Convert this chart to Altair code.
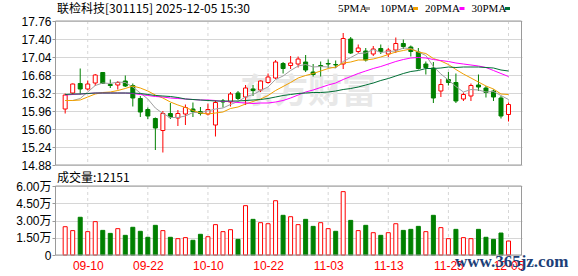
import json
import numpy as np
import pandas as pd
import altair as alt

# ---------------- data ----------------
dates = ["09-05", "09-08", "09-09", "09-10", "09-11", "09-12", "09-15", "09-16", "09-17", "09-18",
         "09-19", "09-22", "09-23", "09-24", "09-25", "09-26", "09-29", "09-30", "10-09", "10-10",
         "10-13", "10-14", "10-15", "10-16", "10-17", "10-20", "10-21", "10-22", "10-23", "10-24",
         "10-27", "10-28", "10-29", "10-30", "10-31", "11-03", "11-04", "11-05", "11-06", "11-07",
         "11-10", "11-11", "11-12", "11-13", "11-14", "11-17", "11-18", "11-19", "11-20", "11-21",
         "11-24", "11-25", "11-26", "11-27", "11-28", "12-01", "12-02", "12-03", "12-04", "12-05"]

open_ = [16.00, 16.32, 16.51, 16.40, 16.52, 16.73, 16.49, 16.48, 16.56, 16.47,
         16.21, 15.99, 15.81, 15.57, 15.91, 15.82, 15.90, 16.00, 15.95, 15.90,
         15.68, 16.16, 16.14, 16.32, 16.24, 16.40, 16.38, 16.53, 16.62, 16.91,
         16.87, 16.90, 16.94, 16.74, 16.87, 16.91, 16.89, 16.90, 17.40, 17.15,
         17.16, 17.10, 17.21, 17.10, 17.18, 17.31, 17.24, 17.14, 16.90, 16.82,
         16.36, 16.59, 16.53, 16.20, 16.26, 16.48, 16.42, 16.36, 16.22, 15.89]
high = [16.31, 16.51, 16.81, 16.57, 16.70, 16.74, 16.59, 16.56, 16.67, 16.51,
        16.26, 16.03, 15.83, 15.96, 16.12, 15.98, 16.09, 16.13, 16.04, 16.11,
        16.18, 16.20, 16.34, 16.36, 16.48, 16.48, 16.57, 16.71, 16.98, 16.94,
        17.06, 17.05, 17.08, 16.90, 16.95, 16.99, 16.97, 17.52, 17.44, 17.29,
        17.22, 17.26, 17.29, 17.22, 17.43, 17.39, 17.27, 17.22, 16.95, 16.94,
        16.60, 16.74, 16.71, 16.33, 16.51, 16.69, 16.46, 16.39, 16.26, 16.13]
low = [15.91, 16.28, 16.29, 16.37, 16.46, 16.50, 16.42, 16.39, 16.44, 16.05,
       15.84, 15.80, 15.18, 15.13, 15.80, 15.66, 15.68, 15.84, 15.87, 15.87,
       15.45, 16.03, 16.05, 16.18, 16.08, 16.26, 16.34, 16.51, 16.60, 16.71,
       16.80, 16.83, 16.74, 16.65, 16.65, 16.82, 16.82, 16.80, 17.10, 17.12,
       16.95, 17.06, 17.10, 17.04, 17.12, 17.20, 17.05, 16.79, 16.69, 16.12,
       16.24, 16.47, 16.12, 16.16, 16.16, 16.36, 16.23, 16.16, 15.81, 15.75]
close = [16.28, 16.50, 16.40, 16.50, 16.68, 16.51, 16.47, 16.53, 16.46, 16.22,
         15.94, 15.86, 15.62, 15.91, 15.84, 15.91, 16.03, 15.95, 15.91, 15.99,
         16.13, 16.14, 16.30, 16.21, 16.42, 16.37, 16.56, 16.64, 16.94, 16.81,
         16.92, 17.00, 16.78, 16.69, 16.85, 16.90, 16.88, 17.41, 17.12, 17.22,
         16.98, 17.20, 17.15, 17.18, 17.31, 17.25, 17.15, 16.81, 16.83, 16.22,
         16.49, 16.53, 16.16, 16.29, 16.47, 16.44, 16.33, 16.24, 15.86, 16.09]
# volume in 万 (10k)
volume = [2.46, 2.12, 3.28, 2.03, 2.90, 2.14, 1.88, 2.29, 1.71, 2.41,
          2.06, 1.54, 2.58, 2.12, 1.54, 1.42, 1.51, 1.28, 1.80, 1.59,
          2.64, 2.03, 2.20, 1.36, 4.29, 3.10, 2.81, 2.72, 4.72, 3.45,
          3.33, 2.64, 3.10, 2.49, 2.81, 2.29, 2.06, 5.51, 3.01, 2.12,
          2.58, 1.94, 1.71, 1.94, 2.72, 2.14, 2.23, 2.49, 2.03, 3.45,
          2.38, 1.42, 2.23, 1.51, 1.42, 2.23, 1.54, 1.36, 1.91, 1.2151]

ma5 = [16.17, 16.17, 16.21, 16.34, 16.47, 16.52, 16.51, 16.54, 16.53, 16.44,
       16.32, 16.20, 16.02, 15.91, 15.83, 15.83, 15.86, 15.93, 15.93, 15.96,
       16.00, 16.02, 16.09, 16.15, 16.24, 16.29, 16.37, 16.44, 16.59, 16.66,
       16.77, 16.86, 16.89, 16.84, 16.85, 16.84, 16.82, 16.95, 17.03, 17.11,
       17.12, 17.19, 17.13, 17.15, 17.16, 17.22, 17.21, 17.14, 17.07, 16.85,
       16.70, 16.58, 16.45, 16.34, 16.39, 16.38, 16.34, 16.35, 16.27, 16.19]
ma10 = [16.17, 16.17, 16.18, 16.24, 16.30, 16.33, 16.34, 16.37, 16.41, 16.46,
        16.42, 16.36, 16.28, 16.22, 16.14, 16.08, 16.03, 15.97, 15.92, 15.90,
        15.92, 15.94, 16.01, 16.04, 16.10, 16.15, 16.20, 16.27, 16.37, 16.45,
        16.53, 16.62, 16.67, 16.71, 16.76, 16.81, 16.84, 16.92, 16.94, 16.98,
        16.98, 17.00, 17.04, 17.09, 17.14, 17.17, 17.20, 17.14, 17.11, 17.01,
        16.96, 16.89, 16.79, 16.70, 16.62, 16.54, 16.46, 16.40, 16.30, 16.29]
ma20 = [16.28, 16.29, 16.30, 16.31, 16.32, 16.32, 16.32, 16.32, 16.32, 16.31,
        16.29, 16.27, 16.25, 16.24, 16.22, 16.21, 16.20, 16.19, 16.18, 16.18,
        16.17, 16.15, 16.15, 16.13, 16.12, 16.11, 16.12, 16.12, 16.14, 16.17,
        16.22, 16.28, 16.34, 16.38, 16.43, 16.48, 16.52, 16.59, 16.65, 16.71,
        16.76, 16.81, 16.85, 16.90, 16.95, 16.99, 17.02, 17.03, 17.02, 16.99,
        16.97, 16.95, 16.92, 16.90, 16.88, 16.86, 16.83, 16.77, 16.71, 16.65]
ma30 = [16.29, 16.30, 16.30, 16.31, 16.32, 16.32, 16.32, 16.32, 16.32, 16.32,
        16.31, 16.29, 16.27, 16.26, 16.25, 16.23, 16.20, 16.19, 16.18, 16.17,
        16.16, 16.16, 16.16, 16.16, 16.17, 16.18, 16.19, 16.21, 16.24, 16.27,
        16.29, 16.31, 16.32, 16.33, 16.33, 16.34, 16.36, 16.39, 16.41, 16.44,
        16.48, 16.52, 16.57, 16.61, 16.66, 16.71, 16.75, 16.77, 16.81, 16.81,
        16.82, 16.84, 16.83, 16.84, 16.84, 16.84, 16.83, 16.82, 16.78, 16.76]

ma_names = ["5PMA", "10PMA", "20PMA", "30PMA"]
price_ticks = [14.88, 15.24, 15.60, 15.96, 16.32, 16.68, 17.04, 17.40, 17.76]
vol_ticks = [0, 1.5, 3.0, 4.5, 6.0]
date_ticks = ["09-10", "09-22", "10-10", "10-22", "11-03", "11-13", "11-25", "12-05"]
title_text = "联检科技[301115] 2025-12-05 15:30"
vol_title = "成交量:12151"

# ---------------- styling ----------------
RED, GREEN = "#ff0000", "#008000"
MA_COLORS = ["#a0a0a0", "#f0a000", "#ff00ff", "#006f35"]
GRID = "#d6d6d6"
FRAME = "#9a9a9a"
W, H = 467, 234          # plot area (both panels)
P_TOP, P_BOT = 0, 144    # price panel pixel range
V_TOP, V_BOT = 165, 234  # volume panel pixel range
OX, OY = 55, 21          # plot origin on page

n = len(dates)
idx = list(range(n))
up = [c >= o for o, c in zip(open_, close)]
candles = pd.DataFrame({
    "idx": idx, "date": dates, "open": open_, "high": high, "low": low, "close": close,
    "vol": volume,
})
candles["col"] = np.where(up, RED, GREEN)
candles["fill"] = np.where(up, "#ffffff", GREEN)
vol_up = candles["close"] >= candles["close"].shift(1).fillna(-1)
candles["vcol"] = np.where(vol_up, RED, GREEN)
candles["vfill"] = np.where(vol_up, "#ffffff", GREEN)

ma_rows = []
for name, series, colr in zip(ma_names, [ma5, ma10, ma20, ma30], MA_COLORS):
    for i, v in enumerate(series):
        ma_rows.append({"idx": i, "ma": v, "name": name, "c": colr})
ma_df = pd.DataFrame(ma_rows)

grid_df = pd.DataFrame({"idx": [dates.index(d) for d in date_ticks]})

x_scale = alt.Scale(domain=[-0.69, 60.13], nice=False, zero=False)
x_axis = alt.Axis(values=[dates.index(d) for d in date_ticks], tickCount=50,
                  labelExpr=json.dumps(dates) + "[datum.value]",
                  grid=False, domain=False, ticks=False, title=None, labelOverlap=False,
                  labelColor="#ff0000", labelFont="Liberation Sans", labelFontSize=12,
                  labelPadding=5)


def X():
    return alt.X("idx:Q", scale=x_scale, axis=x_axis)


p_scale = alt.Scale(domain=[14.88, 17.76], range=[P_BOT, P_TOP], nice=False, zero=False)
v_scale = alt.Scale(domain=[0, 6], range=[V_BOT, V_TOP], nice=False, zero=True)

p_axis = alt.Axis(values=price_ticks, tickCount=50, format=".2f", orient="left", grid=True,
                  gridColor=GRID, domain=False, ticks=True, tickSize=3, tickColor=FRAME,
                  title=None, labelOverlap=False,
                  labelFont="Liberation Sans", labelFontSize=12, labelColor="#000000",
                  labelPadding=1)
v_axis = alt.Axis(values=vol_ticks, tickCount=50, orient="left", grid=True, gridColor=GRID,
                  domain=False, ticks=True, tickSize=3, tickColor=FRAME, title=None,
                  labelOverlap=False,
                  labelExpr="datum.value == 0 ? '0' : format(datum.value, '.2f') + '万'",
                  labelFont="Liberation Sans, Noto Sans CJK SC", labelFontSize=12,
                  labelColor="#000000", labelPadding=1)

# ---------------- price panel ----------------
wm = alt.Chart(pd.DataFrame({"t": ["东方财富"]})).mark_text(
    font="Noto Sans CJK SC", fontSize=34, fontWeight="bold", color="#e8e8e8",
    align="center", baseline="middle").encode(
    x=alt.value(308 - OX), y=alt.value(93 - OY), text="t:N")

p_vgrid = alt.Chart(grid_df).mark_rule(color=GRID, strokeDash=[3, 3], strokeWidth=1).encode(
    x=X(), y=alt.Y("p0:Q", scale=p_scale, axis=p_axis), y2="p1:Q").transform_calculate(
    p0="17.76", p1="14.88")

wicks = alt.Chart(candles).mark_rule(strokeWidth=1).encode(
    x=X(), y=alt.Y("low:Q", scale=p_scale, axis=p_axis), y2="high:Q",
    color=alt.Color("col:N", scale=None))

bodies = alt.Chart(candles).mark_bar(size=4, strokeWidth=1).encode(
    x=X(), y=alt.Y("open:Q", scale=p_scale, axis=p_axis), y2="close:Q",
    fill=alt.Fill("fill:N", scale=None), stroke=alt.Stroke("col:N", scale=None))

lines = alt.Chart(ma_df).mark_line(strokeWidth=1).encode(
    x=X(), y=alt.Y("ma:Q", scale=p_scale, axis=p_axis),
    color=alt.Color("c:N", scale=None), detail="name:N", order="idx:Q")

p_frame = alt.Chart(pd.DataFrame({"a": [0]})).mark_rect(
    fill=None, stroke=FRAME, strokeWidth=1).encode(
    x=alt.value(0.5), x2=alt.value(W - 0.5), y=alt.datum(17.76), y2=alt.datum(14.88))

price = alt.layer(wm, p_vgrid, wicks, bodies, lines, p_frame)

# ---------------- volume panel ----------------
v_vgrid = alt.Chart(grid_df).mark_rule(color=GRID, strokeDash=[3, 3], strokeWidth=1).encode(
    x=X(), y=alt.Y("v0:Q", scale=v_scale, axis=v_axis), y2="v1:Q").transform_calculate(
    v0="0", v1="6")

vbars = alt.Chart(candles).mark_bar(size=4, strokeWidth=1).encode(
    x=X(), y=alt.Y("vol:Q", scale=v_scale, axis=v_axis),
    fill=alt.Fill("vfill:N", scale=None), stroke=alt.Stroke("vcol:N", scale=None))

v_frame = alt.Chart(pd.DataFrame({"a": [0]})).mark_rect(
    fill=None, stroke=FRAME, strokeWidth=1).encode(
    x=alt.value(0.5), x2=alt.value(W - 0.5), y=alt.datum(6), y2=alt.datum(0))

vol = alt.layer(v_vgrid, vbars, v_frame)

# ---------------- texts ----------------
def text_at(s, px, py, size=12, font="Noto Sans CJK SC", color="#000000", weight="normal",
            align="left"):
    return alt.Chart(pd.DataFrame({"t": [s]})).mark_text(
        font=font, fontSize=size, color=color, fontWeight=weight, align=align,
        baseline="alphabetic").encode(x=alt.value(px - OX), y=alt.value(py - OY), text="t:N")


texts = [text_at(title_text, 57, 12.5), text_at(vol_title, 57, 181.5)]

leg_text_x = [338, 380, 425, 471.5]
leg_sw_x = [365, 413, 459.5, 505]
for name, colr, tx, sx in zip(ma_names, MA_COLORS, leg_text_x, leg_sw_x):
    texts.append(text_at(name, tx, 12.3, size=11, font="Liberation Serif"))
    texts.append(alt.Chart(pd.DataFrame({"a": [0]})).mark_rect(color=colr).encode(
        x=alt.value(sx - OX), x2=alt.value(sx + 5 - OX),
        y=alt.value(7 - OY), y2=alt.value(10 - OY)))

texts.append(text_at("www.365jz.com", 455, 267, size=17, font="Liberation Serif",
                     color="#1d3f78", weight="bold"))

chart = alt.layer(price, vol, *texts).resolve_scale(y="independent").resolve_axis(
    y="independent").properties(
    width=W, height=H,
    autosize=alt.AutoSizeParams(type="none"),
    padding={"left": OX, "top": OY, "right": 578 - OX - W, "bottom": 276 - OY - H},
    background="#ffffff",
).configure_view(stroke=None)

chart.save("out.html", embed_options={"renderer": "svg", "actions": False})
